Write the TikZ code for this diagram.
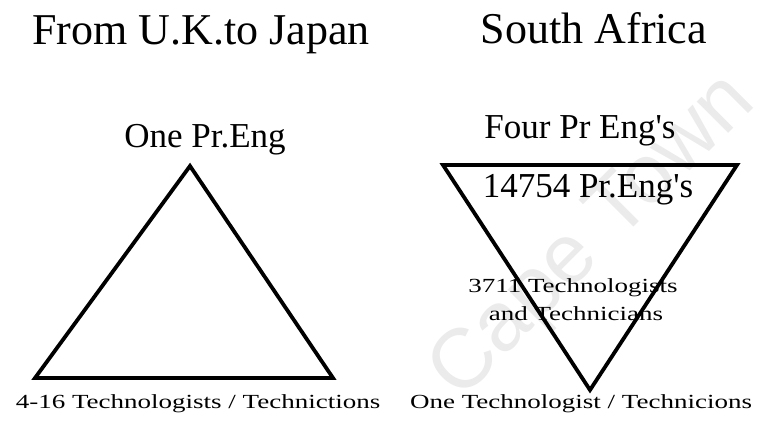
\documentclass[tikz,border=0pt]{standalone}
\usepackage{fontspec}
\setmainfont{Liberation Serif}
\newfontfamily\widefont[FakeStretch=1.35]{Liberation Serif}
\newfontfamily\markfont{Liberation Sans}

\tikzset{
  tri/.style={line width=3.8pt, line join=miter},
  title/.style={anchor=base, font=\fontsize{44}{50}\selectfont},
  big/.style={anchor=base, font=\fontsize{35}{40}\selectfont},
  small/.style={anchor=base, font=\widefont\fontsize{20}{24}\selectfont},
}

\begin{document}
\begin{tikzpicture}[x=1pt,y=-1pt]
            \useasboundingbox (0,0) rectangle (762,425);

            \node[rotate=45, text=gray!16, font=\markfont\fontsize{84}{90}\selectfont] (mark) at (594,238) {Cape Town};

            \coordinate (UKtop) at (190,166);
            \coordinate (UKleft) at (35,378);
            \coordinate (UKright) at (333,378);

            \coordinate (SAleft) at (443,165);
            \coordinate (SAright) at (737,165);
            \coordinate (SAbot) at (590,390);

            \draw[tri] (UKtop)--(UKright)--(UKleft)--cycle;
            \draw[tri] (SAleft)--(SAright)--(SAbot)--cycle;

            \node[title] (uk) at (201,45) {From U.K.to Japan};
            \node[title] (sa) at (594,44) {South Africa};

            \node[big] (ukeng) at (205,147) {One Pr.Eng};
            \node[big] (saeng) at (580,138) {Four Pr Eng\textquotesingle s};
            \node[big] (saall) at (588,197) {14754 Pr.Eng\textquotesingle s};

            \node[small] (tech1) at (573,292) {3711 Technologists};
            \node[small] (tech2) at (576,320) {and Technicians};

            \node[small] (uktech) at (198,408) {4-16 Technologists / Technictions};
            \node[small] (satech) at (581,408) {One Technologist / Technicions};
        \end{tikzpicture}
\end{document}
